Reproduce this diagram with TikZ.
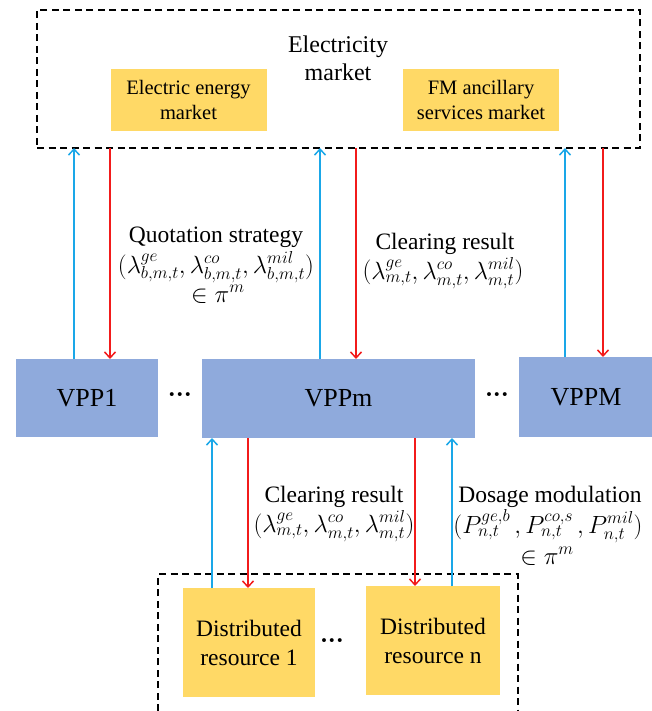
\documentclass[tikz,border=0pt]{standalone}
\usepackage{fontspec}
\setmainfont{Liberation Serif}
\usetikzlibrary{arrows.meta}

\definecolor{vppblue}{HTML}{8FAADC}
\definecolor{resyellow}{HTML}{FFD966}
\definecolor{upblue}{HTML}{1AA7E8}
\definecolor{downred}{HTML}{F21B1B}

\begin{document}
\begin{tikzpicture}[x=1pt,y=-1pt,
  every node/.style={inner sep=0pt, outer sep=0pt},
  vppbox/.style={fill=vppblue, font=\fontsize{26}{30}\selectfont},
  mktbox/.style={fill=resyellow, align=center, font=\fontsize{20.5}{25}\selectfont,
                 minimum width=156pt, minimum height=62pt},
  resbox/.style={fill=resyellow, align=center, font=\fontsize{23.5}{29}\selectfont,
                 minimum height=109pt},
  frame/.style={draw=black, line width=1.4pt, dash pattern=on 7pt off 4.5pt},
  uparrow/.style={draw=upblue, line width=1.5pt, -{Straight Barb[length=6pt,width=11pt]}},
  downarrow/.style={draw=downred, line width=1.5pt, -{Straight Barb[length=6pt,width=11pt]}},
  txt/.style={anchor=base, font=\fontsize{23.5}{27}\selectfont},
  dotsep/.style={font=\bfseries\fontsize{24}{24}\selectfont}
]
\useasboundingbox (0,0) rectangle (652,711);

% market layer
\node[frame, minimum width=603pt, minimum height=138pt] (market) at (338.5,79) {};
\node[align=center, font=\fontsize{24}{28}\selectfont] (elec) at (338,58) {Electricity\\market};
\node[mktbox] (energy) at (188.5,100) {Electric energy\\market};
\node[mktbox] (fm) at (481,100) {FM ancillary\\services market};

% virtual power plants
\node[vppbox, minimum width=142pt, minimum height=78pt] (vpp1) at (87,398) {VPP1};
\node[vppbox, minimum width=273pt, minimum height=79pt] (vppm) at (338.5,398.5) {VPPm};
\node[vppbox, minimum width=134pt, minimum height=80pt] (vppM) at (586,397) {VPPM};
\node[dotsep] (d1) at (180,398) {···};
\node[dotsep] (d2) at (497,398) {···};

% distributed resources
\node[resbox, minimum width=132pt] (dr1) at (249,642.5) {Distributed\\resource 1};
\node[resbox, minimum width=134pt] (drn) at (433,640.5) {Distributed\\resource n};
\node[dotsep] (d3) at (332,644) {···};
\coordinate (fa) at (158,711);
\coordinate (fb) at (158,574);
\coordinate (fc) at (518,574);
\coordinate (fd) at (518,711);
\draw[frame] (fa) -- (fb) -- (fc) -- (fd);

% connector columns
\coordinate (c1) at (74,0);
\coordinate (c2) at (110,0);
\coordinate (c3) at (320,0);
\coordinate (c4) at (356,0);
\coordinate (c5) at (565,0);
\coordinate (c6) at (603,0);
\coordinate (c7) at (212,0);
\coordinate (c8) at (248,0);
\coordinate (c9) at (415,0);
\coordinate (c10) at (452,0);

\draw[uparrow]   (vpp1.north -| c1) -- (market.south -| c1);
\draw[downarrow] (market.south -| c2) -- (vpp1.north -| c2);
\draw[uparrow]   (vppm.north -| c3) -- (market.south -| c3);
\draw[downarrow] (market.south -| c4) -- (vppm.north -| c4);
\draw[uparrow]   (vppM.north -| c5) -- (market.south -| c5);
\draw[downarrow] (market.south -| c6) -- (vppM.north -| c6);

\draw[uparrow]   (dr1.north -| c7) -- (vppm.south -| c7);
\draw[downarrow] (vppm.south -| c8) -- (dr1.north -| c8);
\draw[downarrow] (vppm.south -| c9) -- (drn.north -| c9);
\draw[uparrow]   (drn.north -| c10) -- (vppm.south -| c10);

% labels on the connectors
\node[txt] (q1) at (216,242) {Quotation strategy};
\node[txt] (q2) at (216,273) {$\bigl(\lambda^{ge}_{b,m,t},\lambda^{co}_{b,m,t},\lambda^{mil}_{b,m,t}\bigr)$};
\node[txt] (q3) at (218,302) {$\in\pi^{m}$};

\node[txt] (r1) at (445,249) {Clearing result};
\node[txt] (r2) at (443,279) {$\bigl(\lambda^{ge}_{m,t},\lambda^{co}_{m,t},\lambda^{mil}_{m,t}\bigr)$};

\node[txt] (s1) at (334,502) {Clearing result};
\node[txt] (s2) at (334,532) {$\bigl(\lambda^{ge}_{m,t},\lambda^{co}_{m,t},\lambda^{mil}_{m,t}\bigr)$};

\node[txt] (p1) at (550,502) {Dosage modulation};
\node[txt] (p2) at (548,533) {$\bigl(P^{ge,b}_{n,t}\,,P^{co,s}_{n,t}\,,P^{mil}_{n,t}\bigr)$};
\node[txt] (p3) at (547,564) {$\in\pi^{m}$};
\end{tikzpicture}
\end{document}
